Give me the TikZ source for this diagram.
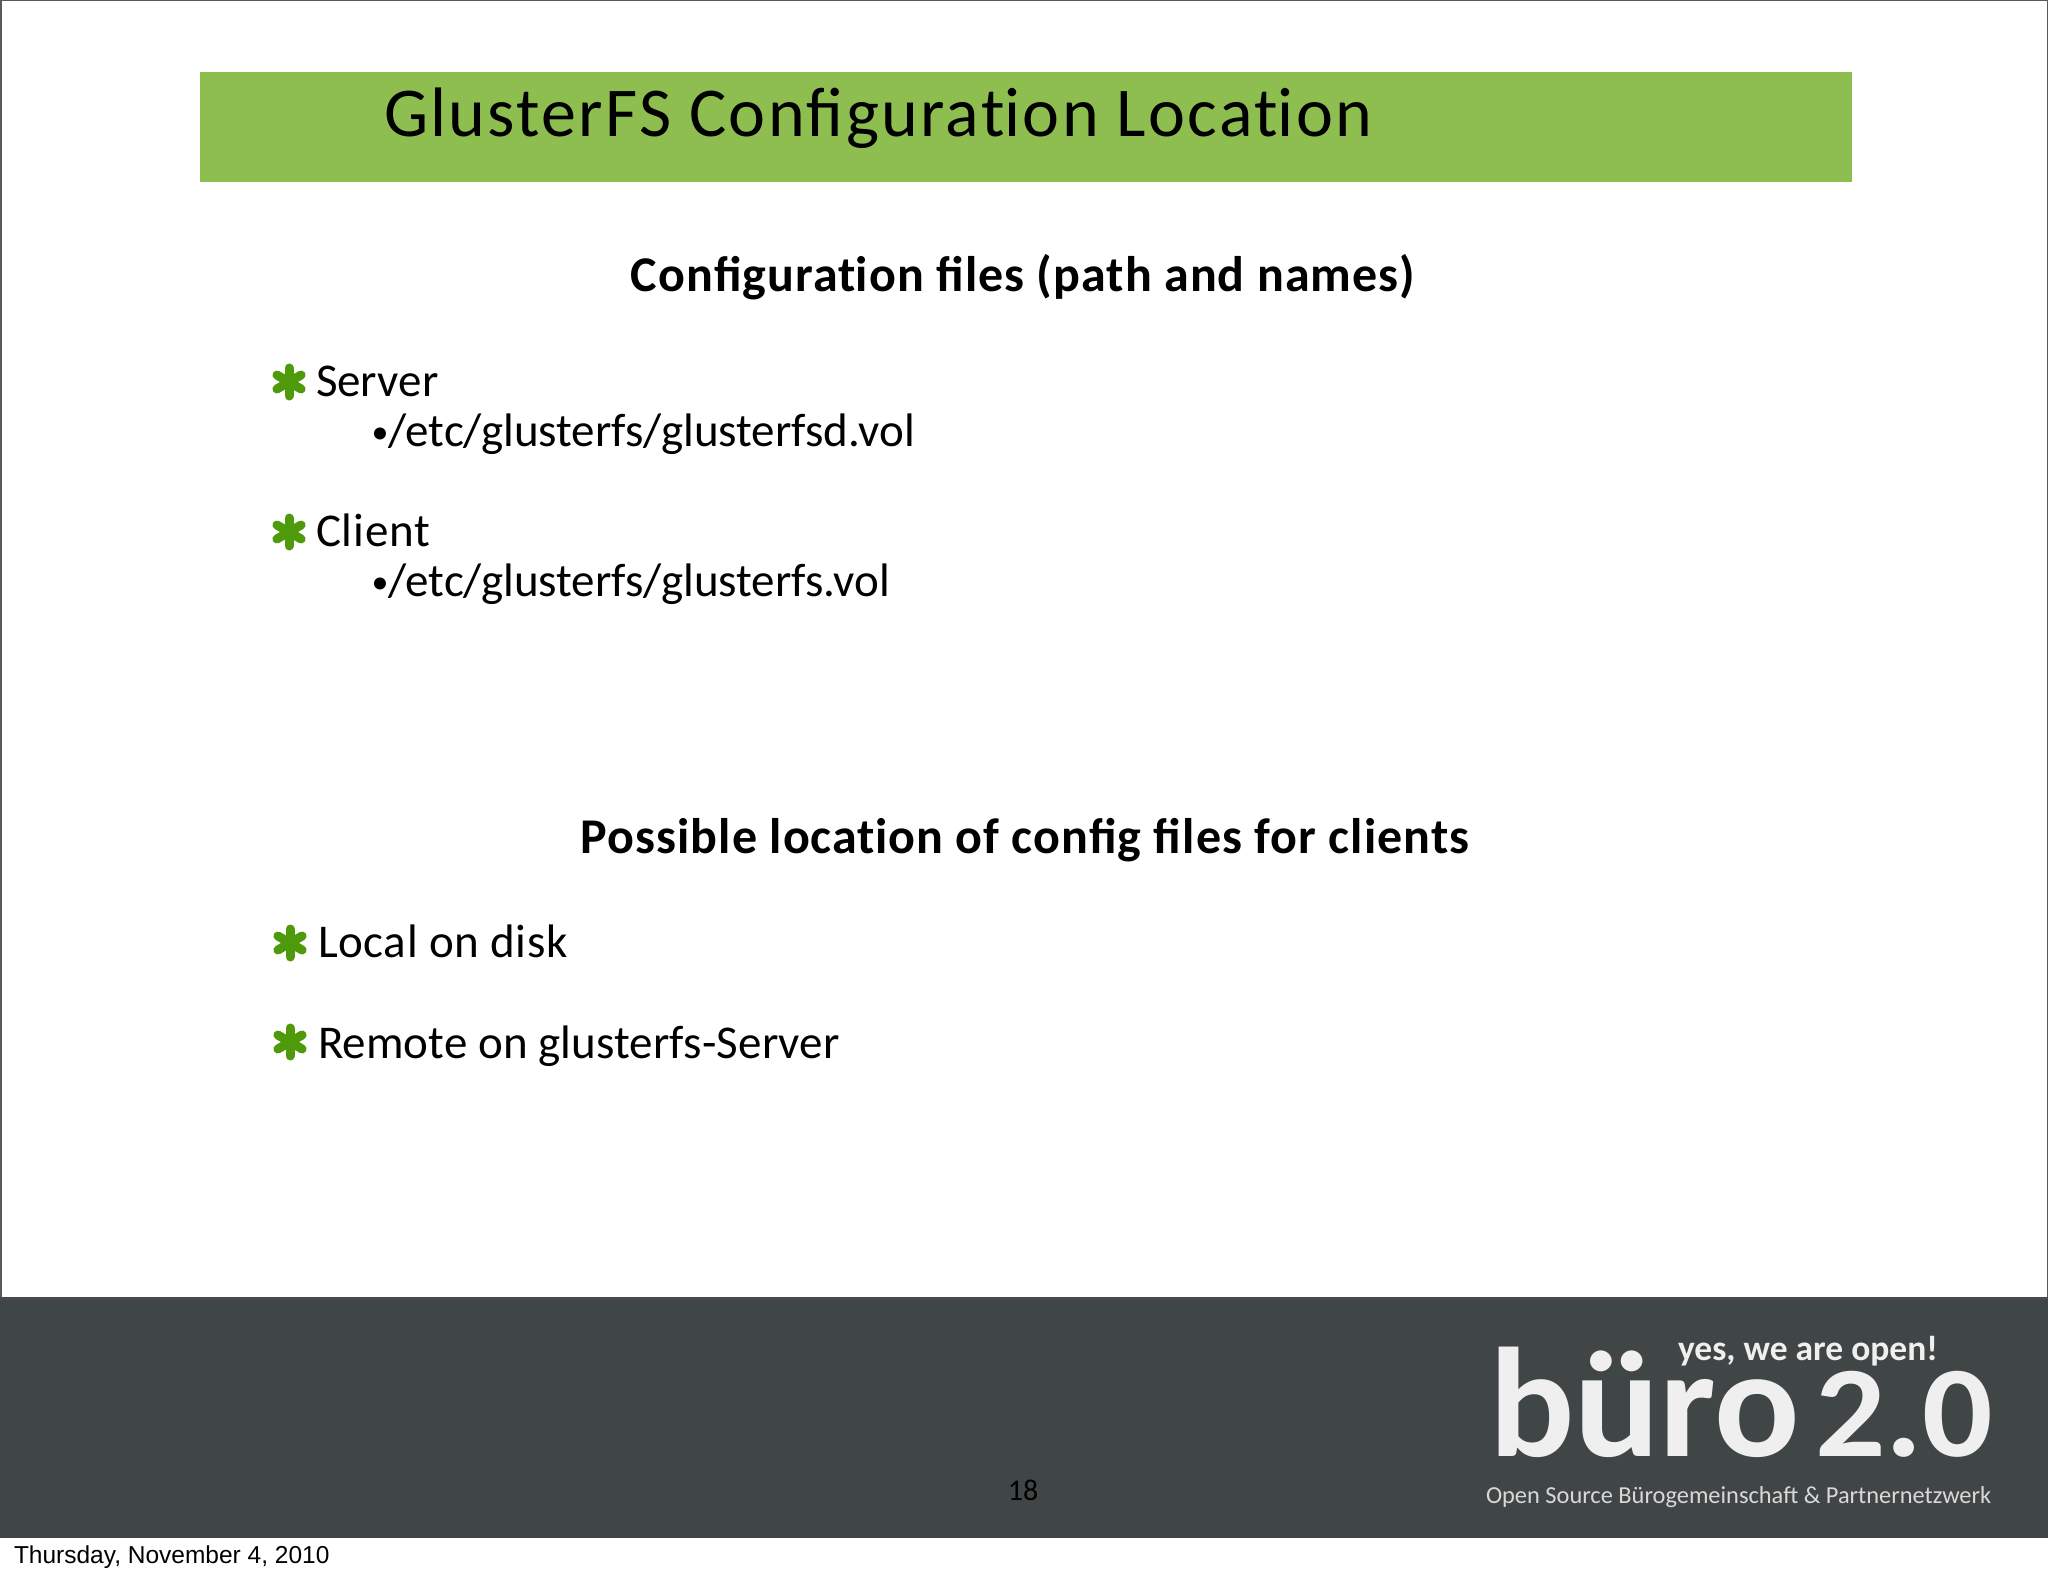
\documentclass[tikz,border=0pt]{standalone}
\usepackage{fontspec}
\setmainfont{Carlito}
\newfontfamily\footfont{Liberation Sans}
\newfontfamily\titlefont[LetterSpace=3.3]{Carlito}
\newfontfamily\headfont[LetterSpace=2.1,BoldFont={Carlito Bold}]{Carlito}
\newfontfamily\localfont[LetterSpace=1.4]{Carlito}
\newfontfamily\clientfont[LetterSpace=1.8]{Carlito}
\newfontfamily\remotefont[LetterSpace=0.25]{Carlito}
\newfontfamily\logofont[FakeStretch=1.02]{Carlito Bold}
\newfontfamily\logonumfont[FakeStretch=1.07]{Carlito Bold}
\definecolor{slidegreen}{HTML}{8FBE50}
\definecolor{stargreen}{HTML}{4F9A0A}
\definecolor{darkband}{HTML}{404546}
\definecolor{bandtop}{HTML}{4A4A4A}
\definecolor{edgegrey}{HTML}{5A5A5A}
\definecolor{logowhite}{HTML}{EFEFEF}
\definecolor{logogrey}{HTML}{D8D8D8}
\newcommand{\smallbullet}{{\fontsize{34}{34}\selectfont\raisebox{3pt}{•}}}
\newcommand{\nolig}{\kern0pt }
\tikzset{
  txt/.style={anchor=base west,inner sep=0pt,outer sep=0pt,text=black},
  titletxt/.style={txt,font=\fontsize{70}{70}\selectfont\titlefont},
  headtxt/.style={anchor=base,inner sep=0pt,text=black,font=\fontsize{50}{50}\selectfont\headfont\bfseries},
  bodytxt/.style={txt,font=\fontsize{47}{47}\selectfont},
  star/.pic={
    \foreach \a in {90,30,150}
      \draw[stargreen,line width=9pt,line cap=round] (\a:14) -- (\a+180:14);
  }
}
\begin{document}
\begin{tikzpicture}[x=1pt,y=-1pt]
\useasboundingbox (0,0) rectangle (2048,1576);
\fill[white] (0,0) rectangle (2048,1576);
\draw[edgegrey,line width=1.5pt] (0.75,1297) -- (0.75,0.75) -- (2047.25,0.75) -- (2047.25,1297);
\fill[slidegreen] (200,72) rectangle (1852,182);
\fill[darkband] (0,1297) rectangle (2048,1538);
\fill[bandtop] (0,1297) rectangle (2048,1300);
\node[titletxt] (title) at (384,136) {GlusterFS Configurat\nolig ion Locat\nolig ion};
\node[headtxt] (head1) at (1023,291) {Configurat\nolig ion files (path and names)};
\pic at (289,382) {star};
\node[bodytxt] (server) at (316,396) {Server};
\node[bodytxt] (serverpath) at (371.5,446) {\smallbullet/etc/glusterfs/glusterfsd.vol};
\pic at (289,532) {star};
\node[bodytxt,font=\fontsize{47}{47}\selectfont\clientfont] (client) at (316,546) {Client};
\node[bodytxt] (clientpath) at (371.5,596) {\smallbullet/etc/glusterfs/glusterfs.vol};
\node[headtxt] (head2) at (1025,853) {Possible locat\nolig ion of config files for clients};
\pic at (290,943) {star};
\node[bodytxt,font=\fontsize{47}{47}\selectfont\localfont] (local) at (318,957) {Local on disk};
\pic at (290,1042) {star};
\node[bodytxt,font=\fontsize{47}{47}\selectfont\remotefont] (remote) at (318,1058) {Remote on glusterfs-Server};
\node[anchor=base,inner sep=0pt,text=black,font=\fontsize{30}{30}\selectfont] (page) at (1023,1500) {18};
\node[txt,text=logowhite,font=\fontsize{156}{156}\selectfont\logofont] (logo) at (1489,1456) {büro};
\node[txt,text=logowhite,font=\fontsize{130}{130}\selectfont\logonumfont] (logonum) at (1815,1456) {2.0};
\node[txt,text=logowhite,font=\fontsize{35.5}{35.5}\selectfont\bfseries] (tag) at (1678,1360) {yes, we are open!};
\node[txt,text=logogrey,font=\fontsize{24.4}{24.4}\selectfont] (sub) at (1486,1503) {Open Source Bürogemeinschaft \& Partnernetzwerk};
\node[txt,font=\fontsize{24.5}{24.5}\selectfont\footfont] (date) at (14,1563) {Thursday, November 4, 2010};
\end{tikzpicture}
\end{document}
